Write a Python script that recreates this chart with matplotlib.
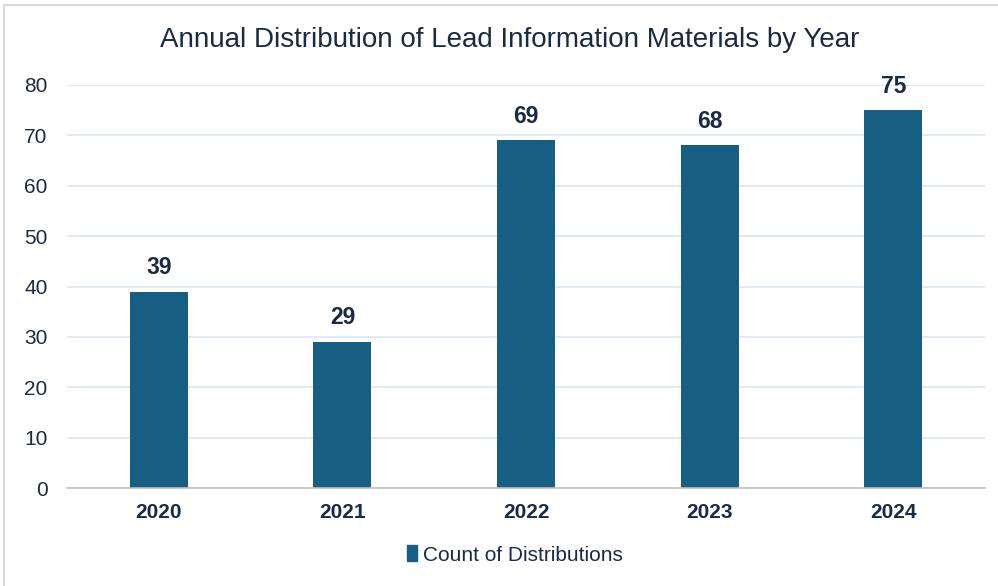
import matplotlib
matplotlib.use("Agg")
import matplotlib.pyplot as plt
from matplotlib.patches import Rectangle, Patch

years = ["2020", "2021", "2022", "2023", "2024"]
counts = [39, 29, 69, 68, 75]
yticks = [0, 10, 20, 30, 40, 50, 60, 70, 80]

BAR = "#175F82"
TXT = "#1B2A44"
plt.rcParams['font.family'] = ['Liberation Sans', 'DejaVu Sans']

W, H = 998, 586
fig = plt.figure(figsize=(W/100, H/100), dpi=100)
fig.patches.append(Rectangle((4/W, -0.1), 1.2, (H-5)/H + 0.1, transform=fig.transFigure,
                             fill=False, edgecolor="#D9D9D9", linewidth=1.5))

left, right, top, bottom = 67, 985, 85, 488
ax = fig.add_axes([left/W, (H-bottom)/H, (right-left)/W, (bottom-top)/H])
x = range(len(years))
ax.bar(x, counts, width=0.315, color=BAR, zorder=3)
ax.set_xlim(-0.5, len(years)-0.5)
ax.set_ylim(0, 80)
ax.set_yticks(yticks)
ax.set_yticklabels([str(v) for v in yticks], fontsize=15, color=TXT)
ax.set_xticks(list(x))
ax.set_xticklabels(years, fontsize=15, fontweight='bold', color=TXT)
ax.tick_params(axis='both', length=0)
ax.tick_params(axis='y', pad=14)
ax.tick_params(axis='x', pad=11)
ax.grid(axis='y', color="#DCE6F2", linewidth=1.2, zorder=0)
for s in ['top', 'right', 'left']:
    ax.spines[s].set_visible(False)
ax.spines['bottom'].set_color("#BFBFBF")
ax.spines['bottom'].set_linewidth(1.2)
ax.spines['bottom'].set_zorder(4)
for xi, v in zip(x, counts):
    ax.annotate(str(v), (xi, v), xytext=(0, 9), textcoords='offset points',
                ha='center', va='bottom', fontsize=16.5, fontweight='bold', color=TXT)

fig.text(510/W, 1 - 40/H, "Annual Distribution of Lead Information Materials by Year",
         ha='center', va='center', fontsize=20, color=TXT)

fig.legend(handles=[Patch(color=BAR, label="Count of Distributions")],
           loc='center', bbox_to_anchor=(515/W, 1 - 555/H), frameon=False,
           fontsize=15, handlelength=0.5, handleheight=0.8, handletextpad=0.3,
           labelcolor=TXT)

fig.savefig("out.png", dpi=100)
